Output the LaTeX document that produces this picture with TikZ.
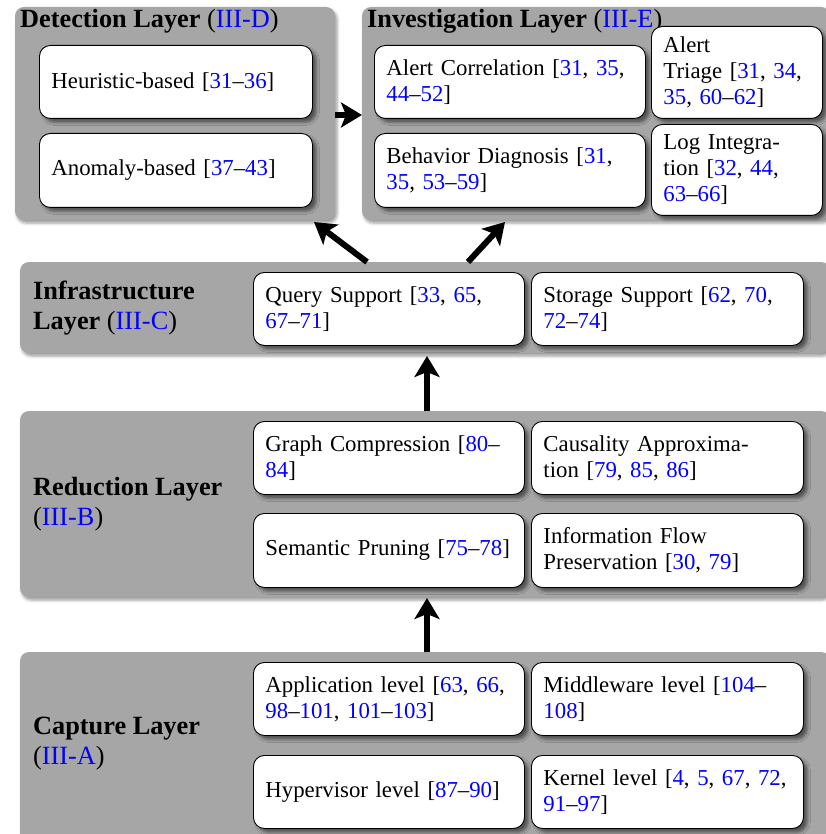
\documentclass[tikz,border=0pt]{standalone}
\usepackage{fontspec}
\setmainfont{Liberation Serif}
\usetikzlibrary{shadows.blur,arrows.meta}
\definecolor{laygray}{RGB}{166,166,166}
\definecolor{citeblue}{RGB}{0,0,255}
\newcommand{\cb}[1]{\textcolor{citeblue}{#1}}
\newcommand{\bodyfont}{\fontsize{22.8}{26}\selectfont}
\newcommand{\ttlfont}{\fontsize{26.3}{30}\selectfont}
\tikzset{
  layer/.style={fill=laygray, draw=none, rounded corners=9,
    blur shadow={shadow xshift=2pt, shadow yshift=-3pt, shadow blur radius=3pt, shadow opacity=40}},
  item/.style={draw=black, line width=0.9, fill=white, rounded corners=11,
    align=left, inner xsep=12, inner ysep=0, anchor=north west, font=\bodyfont,
    blur shadow={shadow xshift=4pt, shadow yshift=-4pt, shadow blur radius=3pt, shadow opacity=50}},
  ttl/.style={font=\ttlfont, anchor=west, align=left, inner sep=0},
  bigarrow/.style={-{Stealth[length=21,width=25,inset=5]}, line width=6, black},
}
\newcommand{\itm}[6]{\node[item, text width=#4-24, minimum height=#5] (#1) at (#2,#3) {#6};}
\begin{document}
\begin{tikzpicture}[x=1pt,y=-1pt]
\useasboundingbox (0,0) rectangle (825,834);
% layers
\fill[layer] (15,7) rectangle (335,220);
\coordinate (detE) at (335,115);
\fill[layer] (362,7) rectangle (830,220);
\coordinate (invW) at (362,115);
\fill[layer] (20,262) rectangle (830,353);
\fill[layer] (20,411) rectangle (830,597);
\fill[layer] (20,652) rectangle (830,850);
% titles
\node[ttl] (tdet) at (20,21) {\textbf{Detection Layer} (\cb{III-D})};
\node[ttl] (tinv) at (367,21) {\textbf{Investigation Layer} (\cb{III-E})};
\node[ttl] (tinf) at (33,308) {\textbf{Infrastructure}\\\textbf{Layer} (\cb{III-C})};
\node[ttl] (tred) at (33,504) {\textbf{Reduction Layer}\\(\cb{III-B})};
\node[ttl] (tcap) at (33,744) {\textbf{Capture Layer}\\(\cb{III-A})};
% detection
\itm{heu}{39}{45}{273}{73}{Heuristic-based [\cb{31}--\cb{36}]}
\itm{ano}{39}{133}{273}{74}{Anomaly-based [\cb{37}--\cb{43}]}
% investigation
\itm{alc}{374}{45}{271}{73}{Alert Correlation [\cb{31}, \cb{35},\\\cb{44}--\cb{52}]}
\itm{beh}{374}{133}{271}{74}{Behavior Diagnosis [\cb{31},\\\cb{35}, \cb{53}--\cb{59}]}
\itm{tri}{651}{26}{171}{92}{Alert\\Triage [\cb{31}, \cb{34},\\\cb{35}, \cb{60}--\cb{62}]}
\itm{log}{651}{124}{171}{91}{Log Integra-\\tion [\cb{32}, \cb{44},\\\cb{63}--\cb{66}]}
% infrastructure
\itm{qry}{253}{272}{271}{73}{Query Support [\cb{33}, \cb{65},\\\cb{67}--\cb{71}]}
\itm{sto}{531}{272}{272}{73}{Storage Support [\cb{62}, \cb{70},\\\cb{72}--\cb{74}]}
% reduction
\itm{gco}{253}{421}{271}{73}{Graph Compression [\cb{80}--\\\cb{84}]}
\itm{cau}{531}{421}{272}{73}{Causality Approxima-\\tion [\cb{79}, \cb{85}, \cb{86}]}
\itm{sem}{253}{513}{271}{74}{Semantic Pruning [\cb{75}--\cb{78}]}
\itm{inf}{531}{513}{272}{74}{Information Flow\\Preservation [\cb{30}, \cb{79}]}
% capture
\itm{app}{253}{662}{271}{73}{Application level [\cb{63}, \cb{66},\\\cb{98}--\cb{101}, \cb{101}--\cb{103}]}
\itm{mid}{531}{662}{272}{73}{Middleware level [\cb{104}--\\\cb{108}]}
\itm{hyp}{253}{755}{271}{73}{Hypervisor level [\cb{87}--\cb{90}]}
\itm{ker}{531}{755}{272}{73}{Kernel level [\cb{4}, \cb{5}, \cb{67}, \cb{72},\\\cb{91}--\cb{97}]}
% arrows
\coordinate (a1s) at (367,262); \coordinate (a1e) at (314,222);
\coordinate (a2s) at (468,262); \coordinate (a2e) at (505,222);
\coordinate (a3s) at (427,411); \coordinate (a3e) at (427,356);
\coordinate (a4s) at (427,652); \coordinate (a4e) at (427,598);
\draw[bigarrow] (detE) -- (invW);
\draw[bigarrow] (a1s) -- (a1e);
\draw[bigarrow] (a2s) -- (a2e);
\draw[bigarrow] (a3s) -- (a3e);
\draw[bigarrow] (a4s) -- (a4e);
\end{tikzpicture}
\end{document}
